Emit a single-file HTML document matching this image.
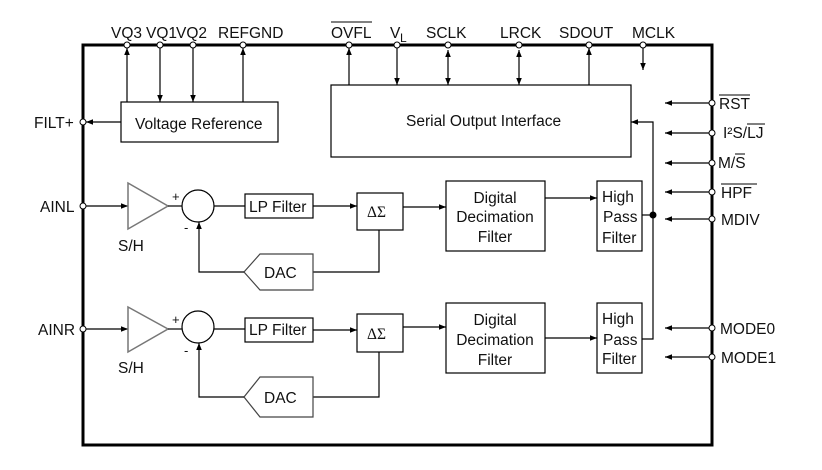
<!DOCTYPE html>
<html><head><meta charset="utf-8"><style>
html,body{margin:0;padding:0;background:#fff;}
svg{display:block;}
text{font-family:"Liberation Sans",Arial,sans-serif;font-size:15.5px;fill:#111;}
</style></head><body>
<svg width="822" height="470" viewBox="0 0 822 470" xmlns="http://www.w3.org/2000/svg">
<defs>
<marker id="a" viewBox="0 0 10 10" refX="10" refY="5" markerWidth="9" markerHeight="7" orient="auto-start-reverse" markerUnits="userSpaceOnUse"><path d="M0,1 L10,5 L0,9 z" fill="#000"/></marker>
</defs>
<g stroke="#000" fill="none">
<rect x="83" y="45" width="629" height="400" stroke-width="3"/>
<g stroke-width="1.2">
<line x1="127" y1="102" x2="127" y2="48" marker-end="url(#a)"/>
<line x1="160" y1="48" x2="160" y2="102" marker-end="url(#a)"/>
<line x1="193" y1="48" x2="193" y2="102" marker-end="url(#a)"/>
<line x1="243" y1="102" x2="243" y2="48" marker-end="url(#a)"/>
<rect x="121" y="102" width="157" height="40"/>
<line x1="121" y1="122" x2="86" y2="122" marker-end="url(#a)"/>
<rect x="331" y="85" width="300" height="72"/>
<line x1="349" y1="85" x2="349" y2="48" marker-end="url(#a)"/>
<line x1="397" y1="48" x2="397" y2="85" marker-end="url(#a)"/>
<line x1="448" y1="50" x2="448" y2="85" marker-start="url(#a)" marker-end="url(#a)"/>
<line x1="519" y1="50" x2="519" y2="85" marker-start="url(#a)" marker-end="url(#a)"/>
<line x1="589" y1="85" x2="589" y2="48" marker-end="url(#a)"/>
<line x1="643" y1="48" x2="643" y2="70" marker-end="url(#a)"/>
<line x1="709" y1="103" x2="665" y2="103" marker-end="url(#a)"/>
<line x1="709" y1="133" x2="665" y2="133" marker-end="url(#a)"/>
<line x1="709" y1="163" x2="665" y2="163" marker-end="url(#a)"/>
<line x1="709" y1="192" x2="665" y2="192" marker-end="url(#a)"/>
<line x1="709" y1="219" x2="665" y2="219" marker-end="url(#a)"/>
<line x1="709" y1="328" x2="665" y2="328" marker-end="url(#a)"/>
<line x1="709" y1="357" x2="665" y2="357" marker-end="url(#a)"/>
<polyline points="642,215 653,215"/>
<polyline points="642,339 653,339 653,122 631,122" marker-end="url(#a)"/>
<line x1="86" y1="206" x2="128" y2="206" marker-end="url(#a)"/>
<polygon points="128,183 168,206 128,229" stroke="#777" stroke-width="1.5"/>
<line x1="168" y1="206" x2="182" y2="206"/>
<circle cx="198" cy="206" r="16"/>
<line x1="214" y1="206" x2="245" y2="206"/>
<rect x="245" y="194" width="68" height="24"/>
<line x1="313" y1="206" x2="357" y2="206" marker-end="url(#a)"/>
<rect x="357" y="193" width="46" height="37"/>
<line x1="403" y1="207" x2="446" y2="207" marker-end="url(#a)"/>
<rect x="446" y="181" width="99" height="70"/>
<line x1="545" y1="198" x2="597" y2="198" marker-end="url(#a)"/>
<rect x="597" y="181" width="45" height="70"/>
<polyline points="379,230 379,272 313,272"/>
<polygon points="313,254 260,254 244,272 260,290 313,290" stroke="#444"/>
<polyline points="244,272 199,272 199,222" marker-end="url(#a)"/>
<line x1="86" y1="329" x2="128" y2="329" marker-end="url(#a)"/>
<polygon points="128,307 168,329 128,352" stroke="#777" stroke-width="1.5"/>
<line x1="168" y1="329" x2="182" y2="329"/>
<circle cx="198" cy="327" r="16"/>
<line x1="214" y1="329" x2="245" y2="329"/>
<rect x="245" y="318" width="68" height="24"/>
<line x1="313" y1="330" x2="357" y2="330" marker-end="url(#a)"/>
<rect x="357" y="314" width="46" height="38"/>
<line x1="403" y1="327" x2="446" y2="327" marker-end="url(#a)"/>
<rect x="446" y="303" width="99" height="70"/>
<line x1="545" y1="338" x2="597" y2="338" marker-end="url(#a)"/>
<rect x="597" y="303" width="45" height="70"/>
<polyline points="379,352 379,397 313,397"/>
<polygon points="313,377 260,377 244,397 260,417 313,417" stroke="#444"/>
<polyline points="244,397 199,397 199,343" marker-end="url(#a)"/>
</g>
<g fill="#fff" stroke-width="1">
<circle cx="127" cy="45" r="3"/><circle cx="160" cy="45" r="3"/><circle cx="193" cy="45" r="3"/><circle cx="243" cy="45" r="3"/>
<circle cx="349" cy="45" r="3"/><circle cx="397" cy="45" r="3"/><circle cx="448" cy="45" r="3"/><circle cx="519" cy="45" r="3"/><circle cx="589" cy="45" r="3"/><circle cx="643" cy="45" r="3"/>
<circle cx="83" cy="122" r="3"/><circle cx="83" cy="206" r="3"/><circle cx="83" cy="329" r="3"/>
<circle cx="712" cy="103" r="3"/><circle cx="712" cy="133" r="3"/><circle cx="712" cy="163" r="3"/><circle cx="712" cy="192" r="3"/><circle cx="712" cy="219" r="3"/><circle cx="712" cy="328" r="3"/><circle cx="712" cy="357" r="3"/>
</g>
<circle cx="653" cy="215" r="3" fill="#000"/>
</g>
<g>
<text x="111" y="38">VQ3</text><text x="146" y="38">VQ1</text><text x="176" y="38">VQ2</text><text x="218" y="38">REFGND</text>
<text x="331" y="38">OVFL</text><line x1="331" y1="22" x2="372" y2="22" stroke="#000" stroke-width="1"/>
<text x="390" y="38">V</text><text x="400" y="42" style="font-size:12px">L</text>
<text x="426" y="38">SCLK</text><text x="500" y="38">LRCK</text><text x="559" y="38">SDOUT</text><text x="632" y="38">MCLK</text>
<text x="34" y="128">FILT+</text><text x="40" y="212">AINL</text><text x="38" y="335">AINR</text>
<text x="719" y="109">RST</text><line x1="719" y1="95" x2="750" y2="95" stroke="#000"/>
<text x="723" y="138">I²S/LJ</text><line x1="747" y1="124" x2="765" y2="124" stroke="#000"/>
<text x="718" y="168">M/S</text><line x1="735" y1="154" x2="745" y2="154" stroke="#000"/>
<text x="721" y="198">HPF</text><line x1="721" y1="184" x2="757" y2="184" stroke="#000"/>
<text x="721" y="225">MDIV</text><text x="720" y="334">MODE0</text><text x="721" y="363">MODE1</text>
<text x="135" y="129">Voltage Reference</text>
<text x="406" y="126">Serial Output Interface</text>
<text x="172" y="201" style="font-size:13px">+</text><text x="184" y="232" style="font-size:13px">-</text>
<text x="172" y="324" style="font-size:13px">+</text><text x="184" y="355" style="font-size:13px">-</text>
<text x="118" y="251">S/H</text><text x="118" y="373">S/H</text>
<text x="249" y="212">LP Filter</text><text x="249" y="335">LP Filter</text>
<text x="367" y="217" style="font-family:'Liberation Serif',serif">ΔΣ</text><text x="367" y="339" style="font-family:'Liberation Serif',serif">ΔΣ</text>
<text x="264" y="278">DAC</text><text x="264" y="403">DAC</text>
<text x="495" y="203" text-anchor="middle">Digital</text><text x="495" y="222" text-anchor="middle">Decimation</text><text x="495" y="242" text-anchor="middle">Filter</text>
<text x="495" y="325" text-anchor="middle">Digital</text><text x="495" y="345" text-anchor="middle">Decimation</text><text x="495" y="365" text-anchor="middle">Filter</text>
<text x="602" y="202">High</text><text x="603" y="222">Pass</text><text x="602" y="243">Filter</text>
<text x="602" y="324">High</text><text x="603" y="345">Pass</text><text x="602" y="364">Filter</text>
</g>
</svg>
</body></html>
